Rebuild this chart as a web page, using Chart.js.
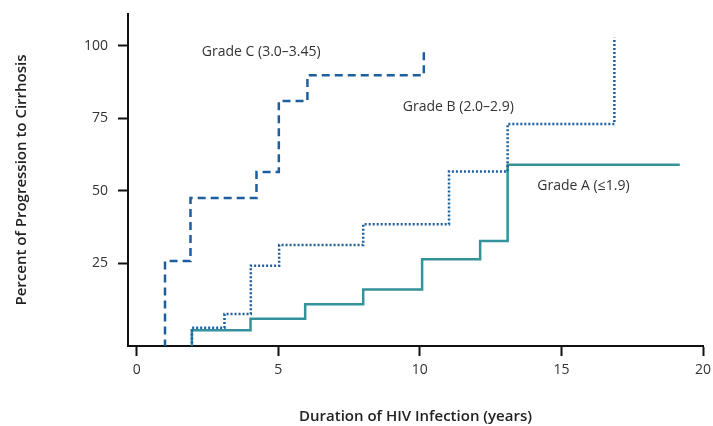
<!DOCTYPE html>
<html>
<head>
<meta charset="utf-8">
<script src="https://cdn.jsdelivr.net/npm/chart.js@4"></script>
<style>
html,body{margin:0;padding:0;background:#fff;}
#wrap{width:713px;height:426px;position:relative;}
</style>
</head>
<body>
<div id="wrap"><canvas id="c" width="713" height="426"></canvas></div>
<script>
// Step-function data (event times in years, cumulative % progression)
const gradeC_x = [1.0, 1.0, 1.9, 4.23, 5.02, 6.03, 10.14];
const gradeC_y = [-4, 25.8, 47.5, 56.5, 81.0, 89.9, 98.0];
const gradeB_x = [1.95, 1.95, 3.1, 4.03, 5.03, 8.0, 11.03, 13.1, 16.87];
const gradeB_y = [-4, 2.8, 7.5, 24.2, 31.3, 38.5, 56.7, 73.1, 102.8];
const gradeA_x = [1.95, 1.95, 4.02, 5.95, 8.0, 10.08, 12.13, 13.1, 19.18];
const gradeA_y = [-4, 1.9, 5.9, 10.9, 16.0, 26.4, 32.7, 59.0, 59.0];
const seriesLabels = ['Grade C (3.0–3.45)', 'Grade B (2.0–2.9)', 'Grade A (≤1.9)'];
const xTicks = [0, 5, 10, 15, 20];
const yTicks = [25, 50, 75, 100];

const toPts = (xs, ys) => xs.map((x, i) => ({x: x, y: ys[i]}));

const labelPos = [
  {x: 2.3, y: 98.0},
  {x: 9.4, y: 79.0},
  {x: 14.15, y: 51.8}
];

const gradeLabels = {
  id: 'gradeLabels',
  afterDatasetsDraw(chart) {
    const ctx = chart.ctx;
    const xs = chart.scales.x, ys = chart.scales.y;
    ctx.save();
    ctx.font = '14px "Open Sans"';
    ctx.fillStyle = '#333333';
    ctx.textAlign = 'left';
    ctx.textBaseline = 'middle';
    seriesLabels.forEach((t, i) => {
      ctx.fillText(t, xs.getPixelForValue(labelPos[i].x), ys.getPixelForValue(labelPos[i].y));
    });
    ctx.restore();
  }
};

new Chart(document.getElementById('c'), {
  type: 'scatter',
  data: {
    datasets: [
      {
        label: seriesLabels[0],
        data: toPts(gradeC_x, gradeC_y),
        showLine: true, stepped: 'before',
        borderColor: '#1d5e9e', borderWidth: 2.5, borderDash: [8, 5],
        pointRadius: 0, fill: false
      },
      {
        label: seriesLabels[1],
        data: toPts(gradeB_x, gradeB_y),
        showLine: true, stepped: 'before',
        borderColor: '#1d5e9e', borderWidth: 2.5, borderDash: [2, 2],
        pointRadius: 0, fill: false
      },
      {
        label: seriesLabels[2],
        data: toPts(gradeA_x, gradeA_y),
        showLine: true, stepped: 'before',
        borderColor: '#33929a', borderWidth: 2.5,
        pointRadius: 0, fill: false
      }
    ]
  },
  options: {
    responsive: false,
    animation: false,
    devicePixelRatio: 1,
    layout: {padding: {left: 0, top: 14, right: 10, bottom: 0}},
    plugins: {legend: {display: false}, tooltip: {enabled: false}},
    scales: {
      x: {
        type: 'linear', min: -0.307, max: 20,
        afterFit(s) { s.height = 80; s.paddingLeft = 0; s.paddingRight = 0; },
        afterBuildTicks(s) { s.ticks = xTicks.map(v => ({value: v})); },
        grid: {drawOnChartArea: false, drawTicks: true, tickLength: 10, tickWidth: 2, tickColor: '#111'},
        border: {display: true, color: '#111', width: 2},
        ticks: {color: '#333', font: {family: 'Open Sans', size: 14}, padding: 6, maxRotation: 0},
        title: {display: true, text: 'Duration of HIV Infection (years)', color: '#222',
                font: {family: 'Open Sans', size: 15, weight: '600'}, padding: {top: 0, bottom: 0}}
      },
      y: {
        type: 'linear', min: -3.5, max: 111.0,
        afterFit(s) { s.width = 128; s.paddingTop = 0; s.paddingBottom = 0; },
        afterBuildTicks(s) { s.ticks = yTicks.map(v => ({value: v})); },
        grid: {drawOnChartArea: false, drawTicks: true, tickLength: 10, tickWidth: 2, tickColor: '#111'},
        border: {display: true, color: '#111', width: 2},
        ticks: {color: '#333', font: {family: 'Open Sans', size: 14}, padding: 10},
        title: {display: true, text: 'Percent of Progression to Cirrhosis', color: '#222',
                font: {family: 'Open Sans', size: 15, weight: '600'}, padding: {top: 13, bottom: 0}}
      }
    }
  },
  plugins: [gradeLabels]
});
</script>
</body>
</html>
